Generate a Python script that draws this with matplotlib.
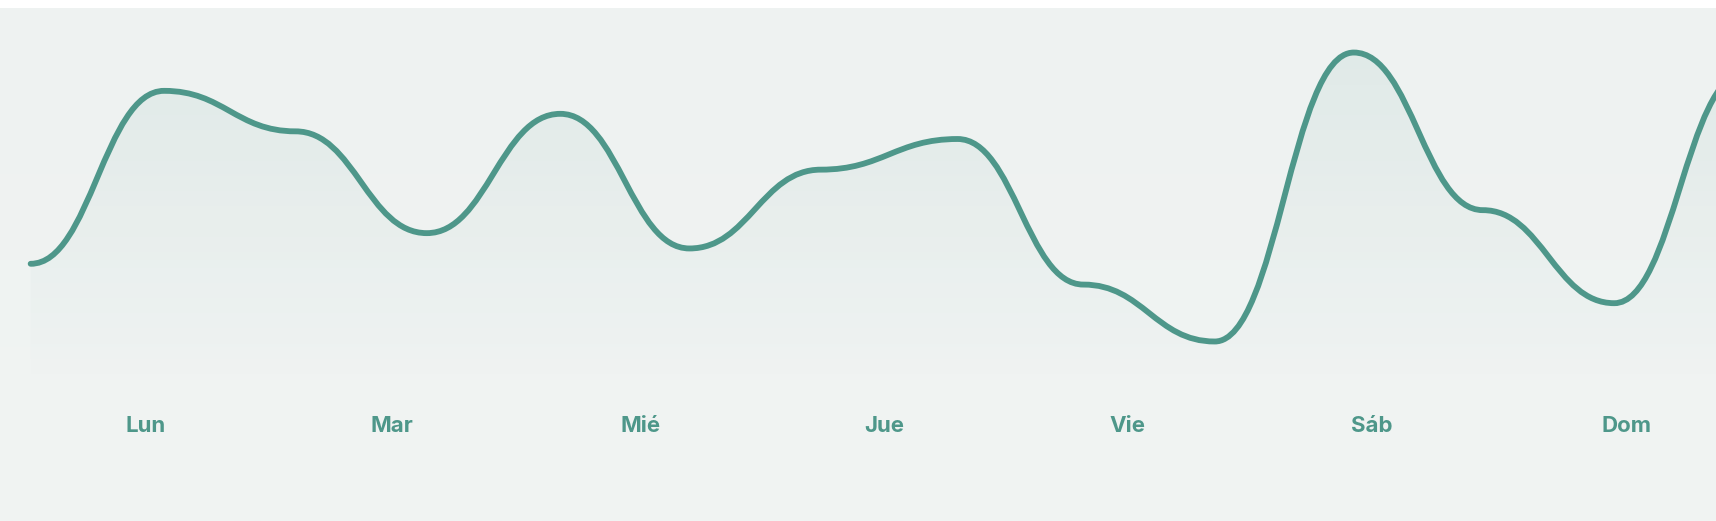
import matplotlib.pyplot as plt
import numpy as np
from matplotlib.path import Path
from matplotlib.patches import PathPatch
from matplotlib.colors import LinearSegmentedColormap

dias = ['Lun', 'Mar', 'Mié', 'Jue', 'Vie', 'Sáb', 'Dom']
dias_x = [133, 358, 585, 808, 1030, 1253, 1486]
puntos_x = [28, 150, 270, 390, 512, 630, 750, 875, 990, 1110, 1237, 1355, 1475, 1595]
valores = [235, 393, 356, 263, 372, 249, 321, 349, 216, 164, 428, 284, 199, 410]

color = '#4e978a'
W, H = 1568, 476


def curva(xs, ys, k=0.45):
    # bezier con tangentes horizontales en cada punto
    verts = [(xs[0], ys[0])]
    codes = [Path.MOVETO]
    for i in range(len(xs) - 1):
        dx = xs[i + 1] - xs[i]
        verts += [(xs[i] + dx * k, ys[i]), (xs[i + 1] - dx * k, ys[i + 1]), (xs[i + 1], ys[i + 1])]
        codes += [Path.CURVE4] * 3
    return verts, codes


fig = plt.figure(figsize=(17.16, 5.21), dpi=100)
fig.patch.set_facecolor('white')
ax = fig.add_axes([0, 0, 1, (H - 7) / H])
ax.set_xlim(0, W)
ax.set_ylim(0, H - 7)
ax.axis('off')

grad = np.linspace(0, 1, 256).reshape(-1, 1)
ax.imshow(grad, extent=[0, W, 0, H], cmap=LinearSegmentedColormap.from_list('bg', ['#eef2f1', '#f1f4f3']),
          aspect='auto', zorder=0)

verts, codes = curva(puntos_x, valores)
linea = Path(verts, codes)
relleno = Path(verts + [(puntos_x[-1], 120), (puntos_x[0], 120), verts[0]],
               codes + [Path.LINETO, Path.LINETO, Path.CLOSEPOLY])
parche = PathPatch(relleno, facecolor='none', edgecolor='none')
ax.add_patch(parche)
fade = ax.imshow(np.linspace(0, 1, 256).reshape(-1, 1), extent=[0, W, 120, 440], origin='lower',
                 cmap=LinearSegmentedColormap.from_list('f', [(0.31, 0.59, 0.54, 0.0), (0.31, 0.59, 0.54, 0.09)]),
                 aspect='auto', zorder=1)
fade.set_clip_path(parche)
ax.add_patch(PathPatch(linea, facecolor='none', edgecolor=color, lw=4.2, capstyle='round', zorder=2))

for d, x in zip(dias, dias_x):
    ax.text(x, H - 389, d, ha='center', va='center', fontsize=16, color=color,
            fontweight='bold', family=['Inter', 'DejaVu Sans'], zorder=3)

fig.savefig('out.png', dpi=100)
